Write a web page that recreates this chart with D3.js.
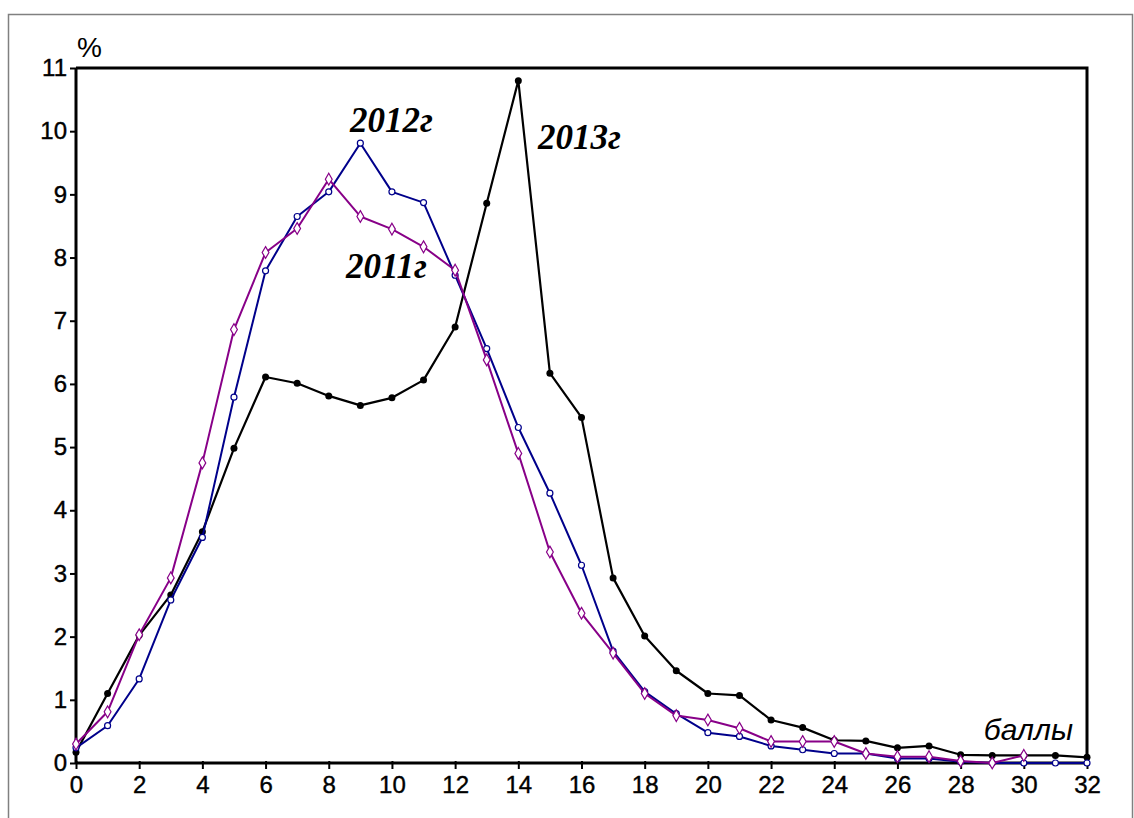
<!DOCTYPE html>
<html><head><meta charset="utf-8">
<script src="https://cdn.jsdelivr.net/npm/d3@7"></script>
<style>body{margin:0;background:#fff;}svg{display:block;}</style>
</head><body>
<svg id="chart" width="1134" height="818"></svg>
<script>
const xValues = d3.range(0, 33);
const xTicks = d3.range(0, 33, 2);
const yTicks = d3.range(0, 12, 1);
const series2013 = [0.17,1.10,2.02,2.66,3.66,4.98,6.11,6.01,5.81,5.66,5.78,6.06,6.90,8.86,10.80,6.17,5.47,2.93,2.01,1.46,1.10,1.07,0.68,0.56,0.36,0.35,0.24,0.27,0.13,0.12,0.12,0.12,0.09];
const series2012 = [0.24,0.59,1.33,2.58,3.57,5.79,7.79,8.65,9.04,9.81,9.04,8.87,7.72,6.56,5.31,4.27,3.13,1.77,1.13,0.78,0.48,0.42,0.27,0.21,0.15,0.15,0.07,0.07,0.02,0.0,0.0,0.0,0.0];
const series2011 = [0.30,0.81,2.03,2.93,4.75,6.86,8.08,8.46,9.24,8.65,8.45,8.17,7.80,6.38,4.90,3.34,2.37,1.74,1.10,0.75,0.68,0.55,0.34,0.34,0.34,0.15,0.10,0.10,0.03,0.0,0.12];
const seriesLabels = ["2013г","2012г","2011г"];

const svg = d3.select("#chart");
const L = 76, R = 1087, T = 68, B = 763;
const x = d3.scaleLinear().domain([0, 32]).range([L, R]);
const y = d3.scaleLinear().domain([0, 11]).range([B, T]);
const sans = "Liberation Sans, Arial, sans-serif";

// outer frame
svg.append("rect").attr("x", 8.5).attr("y", 14.5).attr("width", 1124).attr("height", 820)
  .attr("fill", "none").attr("stroke", "#808080").attr("stroke-width", 1.5);

// plot box top & right
svg.append("path").attr("d", `M${L},${T}H${R}V${B}`).attr("fill","none").attr("stroke","#000").attr("stroke-width",3);

// axes
const xAxis = d3.axisBottom(x).tickValues(xTicks).tickSize(6).tickPadding(7).tickFormat(d3.format("d"));
const gx = svg.append("g").attr("transform", `translate(0,${B})`).call(xAxis);
gx.select(".domain").attr("stroke-width", 3).attr("d", `M${L},0H${R}`);
gx.selectAll(".tick line").attr("stroke-width", 2).attr("y1", -2);
gx.selectAll(".tick text").attr("font-family", sans).attr("font-size", 24).attr("fill", "#000")
  .attr("stroke", "#000").attr("stroke-width", 0.4);

const yAxis = d3.axisLeft(y).tickValues(yTicks).tickSize(6).tickPadding(3).tickFormat(d3.format("d"));
const gy = svg.append("g").attr("transform", `translate(${L},0)`).call(yAxis);
gy.select(".domain").attr("stroke-width", 3).attr("d", `M0,${T}V${B}`);
gy.selectAll(".tick line").attr("stroke-width", 2);
gy.selectAll(".tick text").attr("font-family", sans).attr("font-size", 24).attr("fill", "#000")
  .attr("stroke", "#000").attr("stroke-width", 0.4);

const line = d3.line().x((d, i) => x(xValues[i])).y(d => y(d));

function drawSeries(data, color, width, marker) {
  const g = svg.append("g");
  g.append("path").datum(data).attr("d", line).attr("fill", "none")
    .attr("stroke", color).attr("stroke-width", width).attr("stroke-linejoin", "round");
  const pts = g.selectAll(".m").data(data).enter();
  if (marker === "dot") {
    pts.append("circle").attr("cx", (d, i) => x(xValues[i])).attr("cy", d => y(d)).attr("r", 3.5).attr("fill", color);
  } else if (marker === "circle") {
    pts.append("circle").attr("cx", (d, i) => x(xValues[i])).attr("cy", d => y(d)).attr("r", 3)
      .attr("fill", "#fff").attr("stroke", color).attr("stroke-width", 1.2);
  } else {
    pts.append("path").attr("d", d3.symbol(d3.symbolDiamond, 40))
      .attr("transform", (d, i) => `translate(${x(xValues[i])},${y(d)})`)
      .attr("fill", "#fff").attr("stroke", color).attr("stroke-width", 1.2);
  }
}
drawSeries(series2013, "#000000", 2.2, "dot");
drawSeries(series2012, "#00008b", 2, "circle");
drawSeries(series2011, "#880088", 2, "diamond");

// labels
const serif = "Liberation Serif, Times New Roman, serif";
function lab(t, px, py) {
  svg.append("text").attr("x", px).attr("y", py).text(t)
    .attr("font-family", serif).attr("font-style", "italic").attr("font-weight", "bold").attr("font-size", 35).attr("fill", "#000");
}
lab(seriesLabels[1], 350, 132);
lab(seriesLabels[0], 538, 149);
lab(seriesLabels[2], 346, 278);

svg.append("text").attr("x", 77).attr("y", 57).text("%")
  .attr("font-family", sans).attr("font-size", 28).attr("fill", "#000");
svg.append("text").attr("x", 1073).attr("y", 740).attr("text-anchor", "end").text("баллы")
  .attr("font-family", sans).attr("font-style", "italic").attr("font-size", 30).attr("fill", "#000");
</script>
</body></html>
